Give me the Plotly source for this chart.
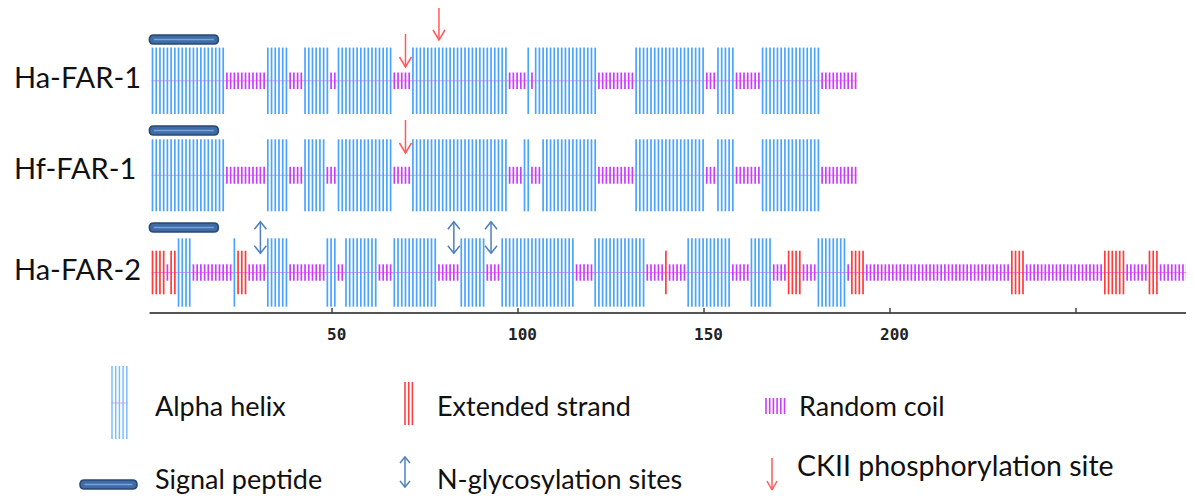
import plotly.graph_objects as go

# ---------------- data ----------------
proteins = ["Ha-FAR-1", "Hf-FAR-1", "Ha-FAR-2"]

# secondary structure segments: (type, first residue, last residue)
# H = alpha helix, C = random coil, E = extended strand
ha_far1_ss = [("H", 1, 20), ("C", 21, 31), ("H", 32, 37), ("C", 38, 41), ("H", 42, 48),
              ("C", 49, 50), ("H", 51, 65), ("C", 66, 70), ("H", 71, 96), ("C", 97, 101),
              ("H", 102, 102), ("C", 103, 103), ("H", 104, 120), ("C", 121, 130),
              ("H", 131, 149), ("C", 150, 152), ("H", 153, 157), ("C", 158, 164),
              ("H", 165, 180), ("C", 181, 190)]

hf_far1_ss = [("H", 1, 20), ("C", 21, 31), ("H", 32, 37), ("C", 38, 41), ("H", 42, 47),
              ("C", 48, 50), ("H", 51, 65), ("C", 66, 70), ("H", 71, 96), ("C", 97, 100),
              ("H", 101, 102), ("C", 103, 105), ("H", 106, 120), ("C", 121, 130),
              ("H", 131, 149), ("C", 150, 152), ("H", 153, 157), ("C", 158, 164),
              ("H", 165, 180), ("C", 181, 190)]

ha_far2_ss = [("E", 1, 4), ("C", 5, 5), ("E", 6, 7), ("H", 8, 11), ("C", 12, 22),
              ("H", 23, 23), ("E", 24, 26), ("C", 27, 31), ("H", 32, 37), ("C", 38, 47),
              ("H", 48, 50), ("C", 51, 52), ("H", 53, 61), ("C", 62, 65), ("H", 66, 77),
              ("C", 78, 83), ("H", 84, 90), ("C", 91, 94), ("H", 95, 114), ("C", 115, 119),
              ("H", 120, 133), ("C", 134, 138), ("E", 139, 139), ("C", 140, 144),
              ("H", 145, 156), ("C", 157, 161), ("H", 162, 167), ("C", 168, 171),
              ("E", 172, 175), ("C", 176, 179), ("H", 180, 187), ("C", 188, 188),
              ("E", 189, 192), ("C", 193, 231), ("E", 232, 235), ("C", 236, 256),
              ("E", 257, 262), ("C", 263, 268), ("E", 269, 271), ("C", 272, 279)]

signal_peptides = [(1, 19), (1, 19), (1, 19)]
ckii_sites = [[69, 78], [69], []]
nglyc_sites = [[], [], [30, 82, 92]]

axis_ticks = [50, 100, 150, 200, 250]
axis_tick_labels = ["50", "100", "150", "200", ""]

legend_labels = ["Alpha helix", "Extended strand", "Random coil",
                 "Signal peptide", "N-glycosylation sites", "CKII phosphorylation site"]

# ---------------- style / layout ----------------
PAGE_W, PAGE_H = 1194, 497
BODY = 8                   # default page margin around the plot div
W, H = PAGE_W - BODY, PAGE_H - BODY
PXU = 3.72                 # pixels per residue
X0 = -39.25 + BODY / PXU   # data value at left edge of figure
X1 = X0 + W / PXU
OFF = 0.75                 # residue line offset inside its cell

row_center = [80.8, 175.3, 272.5]
helix_half = [33.2, 36.0, 34.2]
coil_half = [8.3, 8.5, 8.2]
strand_half = 21.8
sig_y = [39.5, 130.5, 227.5]
ckii_tip = [[67, 40], [153], []]
label_y = [76, 167, 268]
axis_y = 313

COL = {"H": "#4aa3ff", "C": "#c83cff", "E": "#ff3b3b"}
LW = 1.7
PINK = "#ff8cff"
GLY = "#4f7fbf"
RED = "#ff5a5a"

fig = go.Figure()

all_ss = [ha_far1_ss, hf_far1_ss, ha_far2_ss]

for r, ss in enumerate(all_ss):
    c = row_center[r]
    first = ss[0][1]
    last = ss[-1][2]
    fig.add_trace(go.Scatter(x=[first + OFF - 0.3, last + OFF + 0.3], y=[c, c], mode="lines",
                             line=dict(color=PINK, width=1), hoverinfo="skip"))
    for t in ["C", "E", "H"]:
        xs, ys = [], []
        if t == "H":
            h = helix_half[r]
        elif t == "C":
            h = coil_half[r]
        else:
            h = strand_half
        for (tt, s, e) in ss:
            if tt != t:
                continue
            for i in range(s, e + 1):
                xs += [i + OFF, i + OFF, None]
                ys += [c - h, c + h, None]
        if xs:
            fig.add_trace(go.Scatter(x=xs, y=ys, mode="lines",
                                     line=dict(color=COL[t], width=LW), hoverinfo="skip"))

shapes = []
def rounded_path(x0, x1, yc, hh, rx):
    y0, y1 = yc - hh, yc + hh
    return (f"M {x0+rx},{y0} L {x1-rx},{y0} Q {x1},{y0} {x1},{yc} Q {x1},{y1} {x1-rx},{y1} "
            f"L {x0+rx},{y1} Q {x0},{y1} {x0},{yc} Q {x0},{y0} {x0+rx},{y0} Z")

def add_signal(x0, x1, yc, xref, rx):
    shapes.append(dict(type="path", xref=xref, yref="y", path=rounded_path(x0, x1, yc, 4.5, rx),
                       fillcolor="#3f6ca6", line=dict(color="#274872", width=1.6), layer="above"))
    shapes.append(dict(type="line", xref=xref, yref="y", x0=x0 + rx, x1=x1 - rx, y0=yc, y1=yc,
                       line=dict(color="#79a3d8", width=1.4), layer="above"))

for r, (s, e) in enumerate(signal_peptides):
    add_signal(s - 0.1, e + 0.45, sig_y[r], "x", 4.5 / PXU)

def down_arrow(x, tip, length, hw, hh, xaxis, color):
    xs = [x, x, None, x - hw, x, x + hw]
    ys = [tip - length, tip, None, tip - hh, tip, tip - hh]
    fig.add_trace(go.Scatter(x=xs, y=ys, mode="lines", xaxis=xaxis,
                             line=dict(color=color, width=1.5), hoverinfo="skip"))

def double_arrow(x, top, bottom, hw, hh, xaxis, color):
    xs = [x, x, None, x - hw, x, x + hw, None, x - hw, x, x + hw]
    ys = [top, bottom, None, top + hh, top, top + hh, None, bottom - hh, bottom, bottom - hh]
    fig.add_trace(go.Scatter(x=xs, y=ys, mode="lines", xaxis=xaxis,
                             line=dict(color=color, width=1.5), hoverinfo="skip"))

for r, sites in enumerate(ckii_sites):
    for k, s in enumerate(sites):
        down_arrow(s + OFF, ckii_tip[r][k], 33, 6 / PXU, 10, "x", RED)

for r, sites in enumerate(nglyc_sites):
    for s in sites:
        double_arrow(s + OFF, 221.7, 253.3, 6 / PXU, 7.5, "x", GLY)

# axis line + ticks
longest = max(ss[-1][2] for ss in all_ss)
fig.add_trace(go.Scatter(x=[1 + OFF - 0.8, longest + OFF + 0.2], y=[axis_y, axis_y], mode="lines",
                         line=dict(color="#555555", width=2), hoverinfo="skip"))
tx, ty = [], []
for t in axis_ticks:
    tx += [t, t, None]
    ty += [axis_y - 5, axis_y, None]
fig.add_trace(go.Scatter(x=tx, y=ty, mode="lines", line=dict(color="#444444", width=1.5),
                         hoverinfo="skip"))

annotations = []
for t, lab in zip(axis_ticks, axis_tick_labels):
    if lab:
        annotations.append(dict(x=t, y=334, xref="x", yref="y", text="<b>" + lab + "</b>",
                                showarrow=False, xanchor="center", yanchor="middle", xshift=4,
                                font=dict(family="DejaVu Sans Mono", size=16, color="#222222")))

for r, name in enumerate(proteins):
    annotations.append(dict(x=12, y=label_y[r], xref="x2", yref="y", text=name, showarrow=False,
                            xanchor="left", yanchor="middle",
                            font=dict(family="Lato", size=29, color="#111111")))

# ---------------- legend (page pixel coordinates on x2) ----------------
lx, ly = [], []
for k in range(5):
    xx = 112 + k * 3.7
    lx += [xx, xx, None]
    ly += [366, 439, None]
fig.add_trace(go.Scatter(x=[111, 128], y=[403, 403], mode="lines", xaxis="x2",
                         line=dict(color=PINK, width=1), hoverinfo="skip"))
fig.add_trace(go.Scatter(x=lx, y=ly, mode="lines", xaxis="x2",
                         line=dict(color="#7cbcff", width=1.5), hoverinfo="skip"))
lx, ly = [], []
for k in range(3):
    xx = 405 + k * 3.7
    lx += [xx, xx, None]
    ly += [382, 425, None]
fig.add_trace(go.Scatter(x=lx, y=ly, mode="lines", xaxis="x2",
                         line=dict(color="#ff4040", width=1.6), hoverinfo="skip"))
lx, ly = [], []
for k in range(6):
    xx = 766 + k * 3.7
    lx += [xx, xx, None]
    ly += [398, 414, None]
fig.add_trace(go.Scatter(x=lx, y=ly, mode="lines", xaxis="x2",
                         line=dict(color="#c83cff", width=1.6), hoverinfo="skip"))
add_signal(80, 137, 484.5, "x2", 4.5)
double_arrow(405, 457, 487, 5, 6, "x2", GLY)
down_arrow(772, 490, 32, 5, 9, "x2", RED)

leg_pos = [(153, 405), (435, 405), (797, 405), (153, 478), (435, 478), (795, 465)]
leg_size = [27, 27, 27, 27, 27, 28.5]
for lab, (px, py), fs in zip(legend_labels, leg_pos, leg_size):
    annotations.append(dict(x=px, y=py, xref="x2", yref="y", text=lab, showarrow=False,
                            xanchor="left", yanchor="middle",
                            font=dict(family="Lato", size=fs, color="#111111")))

fig.update_layout(
    width=W, height=H,
    margin=dict(l=0, r=0, t=0, b=0),
    paper_bgcolor="white", plot_bgcolor="white",
    showlegend=False,
    xaxis=dict(range=[X0, X1], visible=False, fixedrange=True),
    xaxis2=dict(range=[BODY, PAGE_W], visible=False, overlaying="x", anchor="y", fixedrange=True),
    yaxis=dict(range=[PAGE_H, BODY], visible=False, fixedrange=True),
    shapes=shapes,
    annotations=annotations,
)

fig.write_html("out.html")
